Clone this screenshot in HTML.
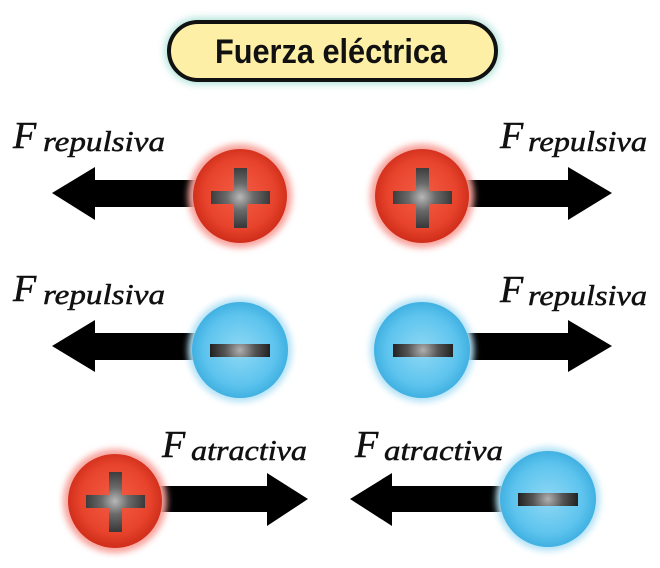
<!DOCTYPE html>
<html><head><meta charset="utf-8"><style>
html,body{margin:0;padding:0;background:#fff;}
svg{display:block;}
</style></head><body>
<svg width="660" height="568" viewBox="0 0 660 568" xmlns="http://www.w3.org/2000/svg">
<defs>
  <filter id="blur" x="-30%" y="-30%" width="160%" height="160%"><feGaussianBlur stdDeviation="3.2"/></filter>
  <filter id="tblur" x="-10%" y="-40%" width="120%" height="180%"><feGaussianBlur stdDeviation="4"/></filter>
  <radialGradient id="red" cx="50%" cy="48%" r="52%">
    <stop offset="0" stop-color="#f35c44"/>
    <stop offset="0.7" stop-color="#e8442d"/>
    <stop offset="1" stop-color="#cf2d1a"/>
  </radialGradient>
  <radialGradient id="blue" cx="50%" cy="50%" r="52%">
    <stop offset="0" stop-color="#8fd8f4"/>
    <stop offset="0.7" stop-color="#5ec4ee"/>
    <stop offset="1" stop-color="#3caee0"/>
  </radialGradient>
  <radialGradient id="s1" gradientUnits="userSpaceOnUse" cx="240" cy="197" r="30">
    <stop offset="0" stop-color="#b8b8b8"/><stop offset="0.45" stop-color="#6a6a6a"/><stop offset="1" stop-color="#3a3a3a"/>
  </radialGradient>
  <radialGradient id="s2" gradientUnits="userSpaceOnUse" cx="422" cy="197" r="30">
    <stop offset="0" stop-color="#b8b8b8"/><stop offset="0.45" stop-color="#6a6a6a"/><stop offset="1" stop-color="#3a3a3a"/>
  </radialGradient>
  <radialGradient id="s5" gradientUnits="userSpaceOnUse" cx="115" cy="501" r="30">
    <stop offset="0" stop-color="#b8b8b8"/><stop offset="0.45" stop-color="#6a6a6a"/><stop offset="1" stop-color="#3a3a3a"/>
  </radialGradient>
  <radialGradient id="m3" gradientUnits="userSpaceOnUse" cx="240" cy="350" r="30">
    <stop offset="0" stop-color="#b0b0b0"/><stop offset="0.5" stop-color="#555"/><stop offset="1" stop-color="#222"/>
  </radialGradient>
  <radialGradient id="m4" gradientUnits="userSpaceOnUse" cx="423" cy="350" r="30">
    <stop offset="0" stop-color="#b0b0b0"/><stop offset="0.5" stop-color="#555"/><stop offset="1" stop-color="#222"/>
  </radialGradient>
  <radialGradient id="m6" gradientUnits="userSpaceOnUse" cx="548" cy="499" r="30">
    <stop offset="0" stop-color="#b0b0b0"/><stop offset="0.5" stop-color="#555"/><stop offset="1" stop-color="#222"/>
  </radialGradient>
</defs>

<!-- Title -->
<rect x="165" y="18" width="335" height="66" rx="33" fill="#a8e0d6" filter="url(#tblur)"/>
<rect x="169" y="22" width="327" height="58" rx="29" fill="#fdf0a6" stroke="#111" stroke-width="4"/>
<text x="215" y="63" font-family="Liberation Sans, sans-serif" font-weight="bold" font-size="34" textLength="232" lengthAdjust="spacingAndGlyphs" fill="#111">Fuerza eléctrica</text>

<!-- Arrows -->
<g fill="#000">
  <polygon points="52,193 95,167 95,180 215,180 215,207 95,207 95,220"/>
  <polygon points="612,193 568,167 568,180 440,180 440,207 568,207 568,220"/>
  <polygon points="52,346 95,320 95,333 215,333 215,360 95,360 95,372"/>
  <polygon points="612,346 568,320 568,333 440,333 440,360 568,360 568,372"/>
  <polygon points="308,499 267,473 267,486 140,486 140,512 267,512 267,526"/>
  <polygon points="350,499 392,473 392,486 525,486 525,512 392,512 392,526"/>
</g>

<!-- Balls -->
<circle cx="240" cy="196" r="52" fill="#f8a39c" filter="url(#blur)"/>
<circle cx="240" cy="196" r="47" fill="url(#red)"/>
<rect x="211" y="191" width="59" height="13" fill="url(#s1)"/>
<rect x="234" y="168" width="13" height="60" fill="url(#s1)"/>

<circle cx="422" cy="196" r="52" fill="#f8a39c" filter="url(#blur)"/>
<circle cx="422" cy="196" r="47" fill="url(#red)"/>
<rect x="393" y="191" width="59" height="13" fill="url(#s2)"/>
<rect x="416" y="168" width="13" height="60" fill="url(#s2)"/>

<circle cx="240" cy="350" r="52" fill="#b3e2f6" filter="url(#blur)"/>
<circle cx="240" cy="350" r="48" fill="url(#blue)"/>
<rect x="210" y="344" width="60" height="13" fill="url(#m3)"/>

<circle cx="422" cy="350" r="52" fill="#b3e2f6" filter="url(#blur)"/>
<circle cx="422" cy="350" r="48" fill="url(#blue)"/>
<rect x="393" y="344" width="60" height="13" fill="url(#m4)"/>

<circle cx="115" cy="501" r="52" fill="#f8a39c" filter="url(#blur)"/>
<circle cx="115" cy="501" r="47" fill="url(#red)"/>
<rect x="86" y="495" width="59" height="13" fill="url(#s5)"/>
<rect x="109" y="472" width="13" height="60" fill="url(#s5)"/>

<circle cx="548" cy="499" r="52" fill="#b3e2f6" filter="url(#blur)"/>
<circle cx="548" cy="499" r="48" fill="url(#blue)"/>
<rect x="518" y="493" width="60" height="13" fill="url(#m6)"/>

<!-- Labels -->
<g font-family="Liberation Serif, serif" font-style="italic" fill="#111" stroke="#111" stroke-width="0.5">
  <text x="13" y="148" font-size="38">F</text>
  <text x="43" y="151" font-size="28" textLength="122" lengthAdjust="spacingAndGlyphs">repulsiva</text>
  <text x="500" y="148" font-size="38">F</text>
  <text x="528" y="151" font-size="28" textLength="119" lengthAdjust="spacingAndGlyphs">repulsiva</text>

  <text x="13" y="301" font-size="38">F</text>
  <text x="43" y="304" font-size="28" textLength="122" lengthAdjust="spacingAndGlyphs">repulsiva</text>
  <text x="500" y="302" font-size="38">F</text>
  <text x="528" y="305" font-size="28" textLength="119" lengthAdjust="spacingAndGlyphs">repulsiva</text>

  <text x="162" y="457" font-size="38">F</text>
  <text x="191" y="460" font-size="28" textLength="116" lengthAdjust="spacingAndGlyphs">atractiva</text>
  <text x="355" y="457" font-size="38">F</text>
  <text x="384" y="460" font-size="28" textLength="119" lengthAdjust="spacingAndGlyphs">atractiva</text>
</g>
</svg>
</body></html>
